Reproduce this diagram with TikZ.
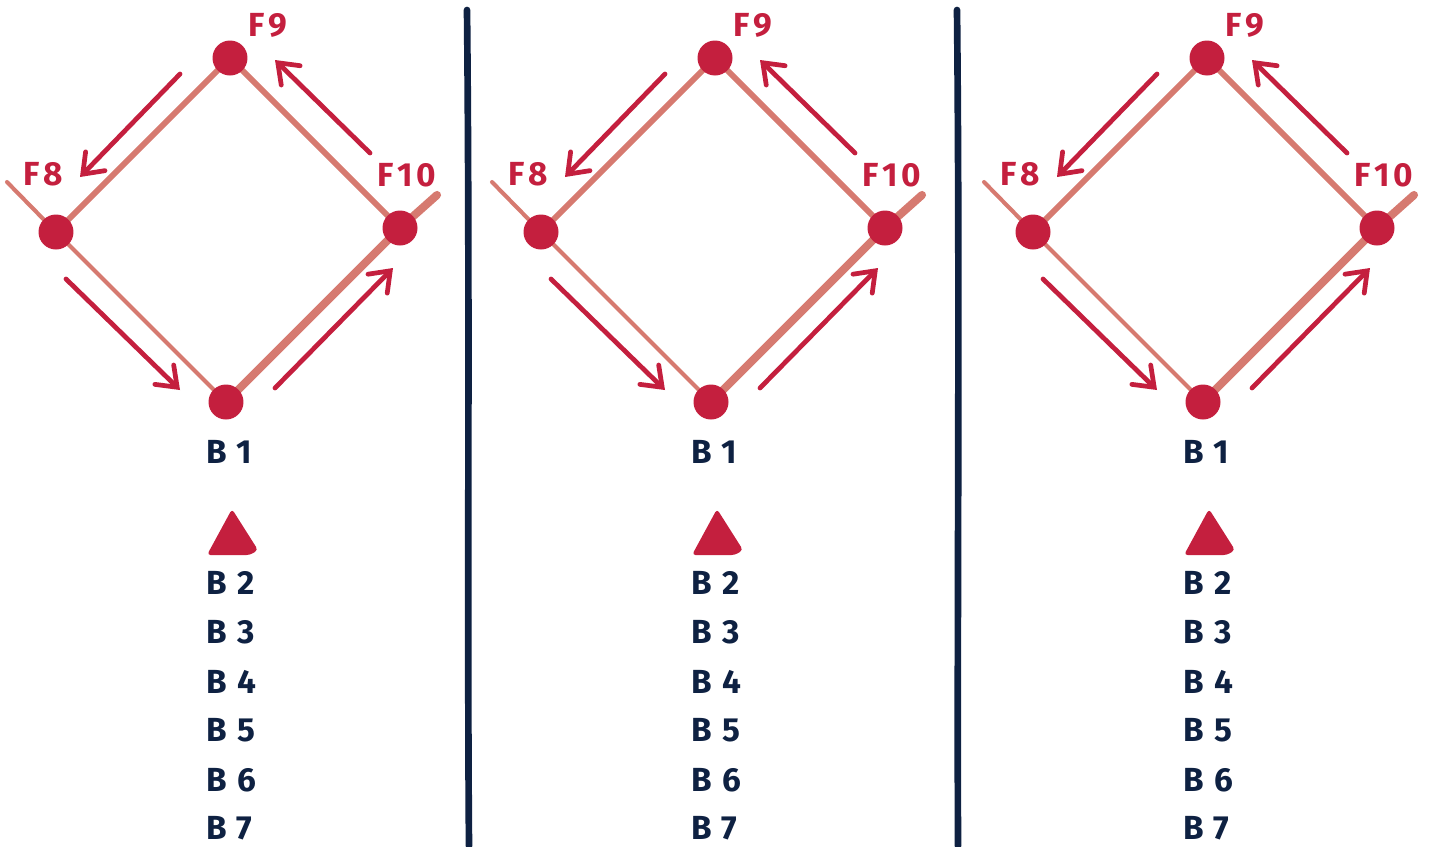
\documentclass[tikz,border=0pt]{standalone}
\usepackage{fontspec}
\setmainfont{Fira Sans}[LetterSpace=12]
\usetikzlibrary{arrows.meta}
\definecolor{BaseRed}{HTML}{C41F3E}
\definecolor{PathRed}{HTML}{D67A70}
\definecolor{InkNavy}{HTML}{0E2142}
\tikzset{
  base/.style={circle, fill=BaseRed, minimum size=7mm, inner sep=0pt},
  flabel/.style={font=\fontsize{19}{22}\selectfont\bfseries, text=BaseRed, inner sep=0pt},
  blabel/.style={font=\fontsize{19}{22}\selectfont\bfseries\addfontfeature{LetterSpace=32},
             text=InkNavy, anchor=west, inner sep=0pt},
  thinpath/.style={line width=2.3pt, draw=PathRed, line cap=round},
  midpath/.style={line width=3.3pt, draw=PathRed, line cap=round},
  thickpath/.style={line width=4.6pt, draw=PathRed, line cap=round},
  runarrow/.style={line width=2.7pt, draw=BaseRed, line cap=round,
             -{Straight Barb[length=3.6mm, width=5.4mm, line cap=round]}},
  divider/.style={line width=3.8pt, draw=InkNavy, line cap=round},
}

\begin{document}
\begin{tikzpicture}[x=0.02cm, y=-0.02cm]
\useasboundingbox (0,0) rectangle (1430,846);

% separators between the three plays
\draw[divider] (467,10) .. controls (470,300) and (467,600) .. (469,846);
\draw[divider] (957,10) .. controls (960,300) and (957,600) .. (958,846);

\foreach \p/\dx in {a/0, b/485, c/977} {
\begin{scope}[shift={(\dx,0)}]
  % bases
  \coordinate (x8\p) at (7,182);
  \coordinate (x10\p) at (437,195);
  \coordinate (f9\p) at (230,58);
  \coordinate (f8\p) at (56,232);
  \coordinate (f10\p) at (400,228);
  \coordinate (b1\p) at (226,402);
  \draw[thinpath] (x8\p) -- (f8\p) -- (b1\p);
  \draw[thickpath] (b1\p) -- (f10\p) -- (x10\p);
  \draw[midpath] (f8\p) -- (f9\p) -- (f10\p);
  \node[base] (n9\p) at (f9\p) {};
  \node[base] (n8\p) at (f8\p) {};
  \node[base] (n10\p) at (f10\p) {};
  \node[base] (n1\p) at (b1\p) {};
  % base labels
  \node[flabel] (l9\p) at (268,25) {F9};
  \node[flabel] (l8\p) at (43,174) {F8};
  \node[flabel] (l10\p) at (407,175) {F10};
  \node[blabel] (l1\p) at (206,452) {B1};
  % running order
  \coordinate (s1\p) at (180,74);  \coordinate (e1\p) at (80,177);
  \coordinate (s2\p) at (66,279);  \coordinate (e2\p) at (180,390);
  \coordinate (s3\p) at (275,388); \coordinate (e3\p) at (393,268);
  \coordinate (s4\p) at (370,153); \coordinate (e4\p) at (275,60);
  \draw[runarrow] (s1\p) -- (e1\p);
  \draw[runarrow] (s2\p) -- (e2\p);
  \draw[runarrow] (s3\p) -- (e3\p);
  \draw[runarrow] (s4\p) -- (e4\p);
  % batting list
  \fill[BaseRed, rounded corners=2pt] (232,509) -- (258,550) -- (250,555) -- (207,555) -- cycle;
  \foreach \n/\y in {2/583, 3/632, 4/682, 5/730, 6/780, 7/828}
    \node[blabel] (b\n\p) at (206,\y) {B\n};
\end{scope}
}
\end{tikzpicture}
\end{document}
